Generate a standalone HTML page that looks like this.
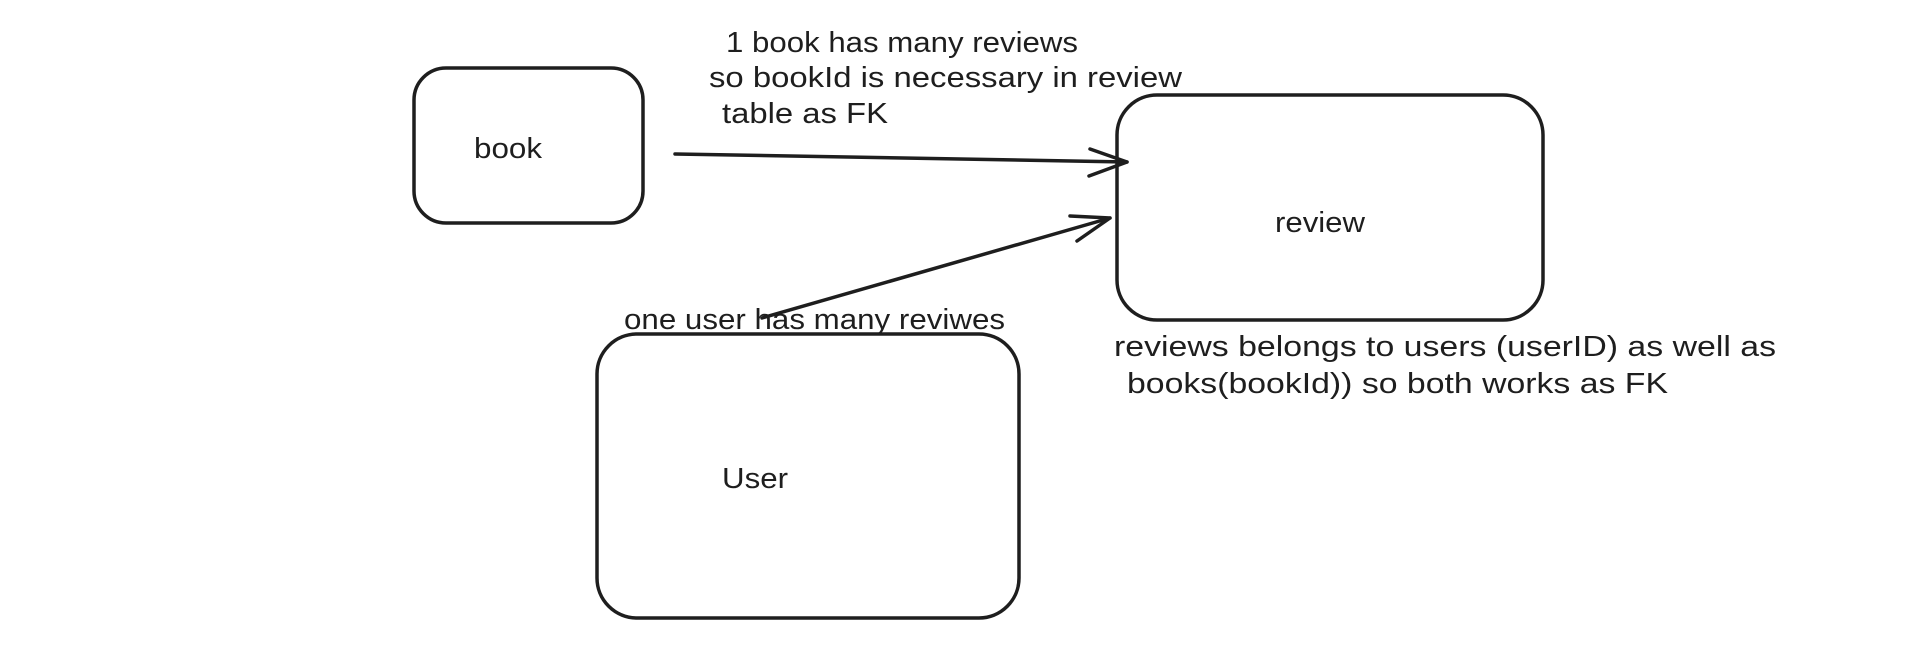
<!DOCTYPE html>
<html><head><meta charset="utf-8"><style>html,body{margin:0;padding:0;background:#fff;}svg{display:block}</style></head>
<body>
<svg width="1920" height="670" viewBox="0 0 1920 670" xmlns="http://www.w3.org/2000/svg">
<g fill="none" stroke="#1e1e1e" stroke-width="3.5" stroke-linecap="round" stroke-linejoin="round">
<rect x="414" y="68" width="229" height="155" rx="32"/>
<rect x="1117" y="95" width="426" height="225" rx="40"/>
<rect x="597" y="334" width="422" height="284" rx="40"/>
<path d="M675 154 L1127 162"/>
<path d="M1090 149 L1127 162 L1089 176"/>
<path d="M762 318 L1110 218"/>
<path d="M1070 216 L1110 218 L1077 241"/>
</g>
<g font-family="Liberation Sans, sans-serif" font-size="29" fill="#1e1e1e">
<text x="474" y="158" textLength="68" lengthAdjust="spacingAndGlyphs">book</text>
<text x="1275" y="232" textLength="90" lengthAdjust="spacingAndGlyphs">review</text>
<text x="722" y="488" textLength="66" lengthAdjust="spacingAndGlyphs">User</text>
<text x="726" y="52" textLength="352" lengthAdjust="spacingAndGlyphs">1 book has many reviews</text>
<text x="709" y="87" textLength="473" lengthAdjust="spacingAndGlyphs">so bookId is necessary in review</text>
<text x="722" y="123" textLength="166" lengthAdjust="spacingAndGlyphs">table as FK</text>
<text x="624" y="329" textLength="381" lengthAdjust="spacingAndGlyphs">one user has many reviwes</text>
<text x="1114" y="356" textLength="662" lengthAdjust="spacingAndGlyphs">reviews belongs to users (userID)  as well as</text>
<text x="1127" y="393" textLength="541" lengthAdjust="spacingAndGlyphs">books(bookId)) so both works as FK</text>
</g>
</svg>
</body></html>
